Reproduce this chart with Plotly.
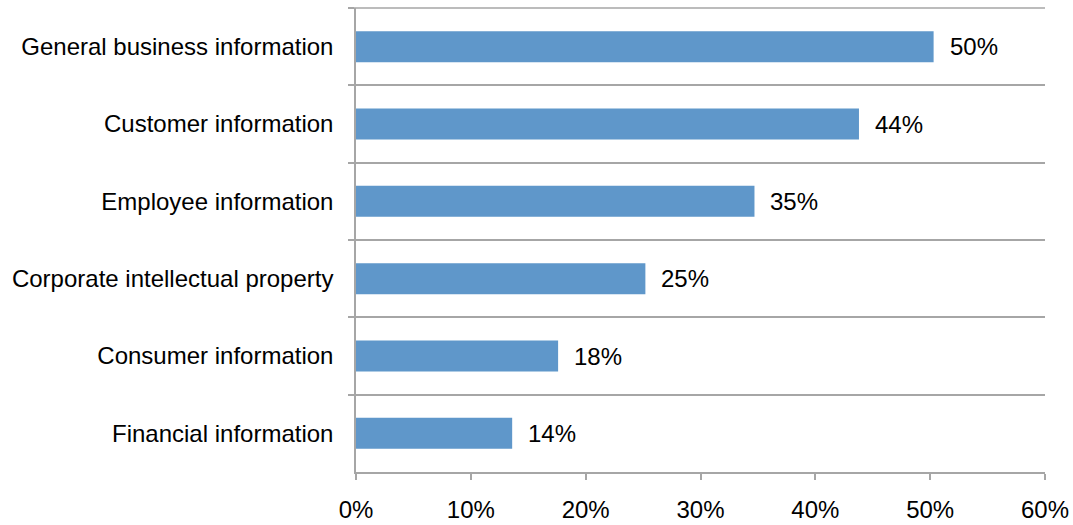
import plotly.graph_objects as go

categories = [
    "General business information",
    "Customer information",
    "Employee information",
    "Corporate intellectual property",
    "Consumer information",
    "Financial information",
]
shares = [50.3, 43.8, 34.7, 25.2, 17.6, 13.6]
x_ticks = [0, 10, 20, 30, 40, 50, 60]
x_tick_labels = ["0%", "10%", "20%", "30%", "40%", "50%", "60%"]

BAR = "#5F97CA"
GRID = "#A6A6A6"
FONT = "Liberation Sans, Arial, sans-serif"
FS = 24

fig = go.Figure(
    go.Bar(
        x=shares,
        y=categories,
        orientation="h",
        marker=dict(color=BAR, line=dict(width=0)),
        hoverinfo="skip",
    )
)

# value labels to the right of each bar
for cat, val in zip(categories, shares):
    fig.add_annotation(
        x=val, y=cat, text=f"{val:.0f}%", showarrow=False,
        xanchor="left", yanchor="middle", xshift=14,
        font=dict(family=FONT, size=FS, color="#000000"),
    )

# top boundary grid line of the category axis
fig.add_shape(
    type="line", xref="paper", yref="paper",
    x0=-6 / 689, x1=1, y0=1, y1=1,
    line=dict(color=GRID, width=1.5),
)

fig.update_layout(
    width=1073, height=525,
    margin=dict(l=356, r=28, t=8, b=53),
    paper_bgcolor="white", plot_bgcolor="white",
    bargap=0.6,
    showlegend=False,
    font=dict(family=FONT, size=FS, color="#000000"),
)

fig.update_xaxes(
    range=[0, 60],
    tickvals=x_ticks, ticktext=x_tick_labels,
    showgrid=False, zeroline=False,
    showline=True, linecolor=GRID, linewidth=1.5,
    ticks="outside", ticklen=6, tickcolor=GRID, tickwidth=1.5,
    ticklabelstandoff=9, automargin=False,
    tickfont=dict(family=FONT, size=FS, color="#000000"),
)

fig.update_yaxes(
    autorange="reversed",
    tickson="boundaries",
    showgrid=True, gridcolor=GRID, gridwidth=1.5,
    showline=True, linecolor=GRID, linewidth=1.5,
    ticks="outside", ticklen=6, tickcolor=GRID, tickwidth=1.5,
    ticklabelstandoff=16, automargin=False,
    tickfont=dict(family=FONT, size=FS, color="#000000"),
)

fig.write_html("out.html")
